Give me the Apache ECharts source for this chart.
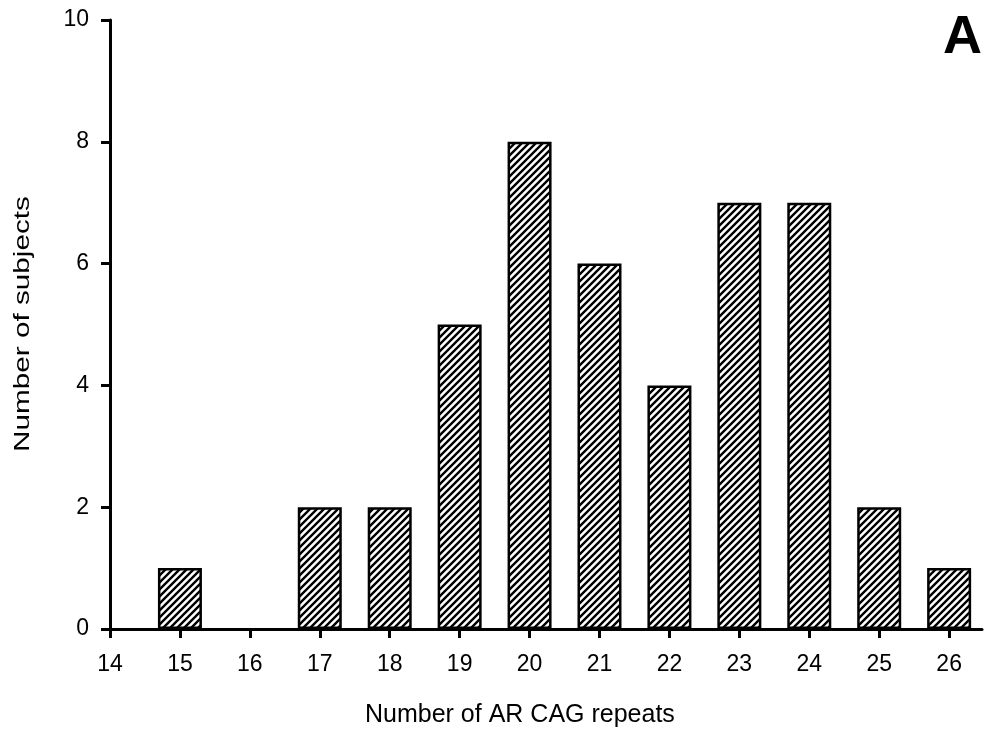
<!DOCTYPE html>
<html>
<head>
<meta charset="utf-8">
<script src="https://cdn.jsdelivr.net/npm/echarts@6/dist/echarts.min.js"></script>
<style>
html,body{margin:0;padding:0;background:#fff;}
#chart{width:986px;height:738px;}
</style>
</head>
<body>
<div id="chart"></div>
<script>
var repeats = [15, 16, 17, 18, 19, 20, 21, 22, 23, 24, 25, 26];
var subjects = [1, 0, 2, 2, 5, 8, 6, 4, 7, 7, 2, 1];
var yTicks = [0, 2, 4, 6, 8, 10];
var xTicks = [14, 15, 16, 17, 18, 19, 20, 21, 22, 23, 24, 25, 26];

function hatch() {
  var s = 7;
  var c = document.createElement('canvas');
  c.width = s; c.height = s;
  var g = c.getContext('2d');
  g.fillStyle = '#fff';
  g.fillRect(0, 0, s, s);
  g.strokeStyle = '#000';
  g.lineWidth = 2.4;
  g.beginPath();
  g.moveTo(-1, s + 1); g.lineTo(s + 1, -1);
  g.moveTo(-1, 1); g.lineTo(1, -1);
  g.moveTo(s - 1, s + 1); g.lineTo(s + 1, s - 1);
  g.stroke();
  return c;
}

var chart = echarts.init(document.getElementById('chart'));
var font = '"Liberation Sans", Arial, sans-serif';
chart.setOption({
  animation: false,
  grid: {left: 110, right: 4, top: 20, bottom: 109},
  xAxis: {
    type: 'value', min: 14, max: 26.47, interval: 1,
    axisLine: {show: true, lineStyle: {color: '#000', width: 3}},
    axisTick: {show: true, length: 9, lineStyle: {color: '#000', width: 3},
      customValues: xTicks},
    axisLabel: {color: '#000', fontSize: 23, fontFamily: font, margin: 24,
      customValues: xTicks},
    splitLine: {show: false}
  },
  yAxis: {
    type: 'value', min: 0, max: 10, interval: 2,
    axisLine: {show: true, lineStyle: {color: '#000', width: 3}},
    axisTick: {show: true, length: 9, lineStyle: {color: '#000', width: 3},
      customValues: yTicks},
    axisLabel: {color: '#000', fontSize: 23, fontFamily: font, margin: 21,
      customValues: yTicks},
    splitLine: {show: false}
  },
  series: [{
    type: 'bar',
    barWidth: 44,
    data: repeats.map(function (r, i) {
      var item = {value: [r, subjects[i]]};
      if (subjects[i] === 0) item.itemStyle = {borderWidth: 0};
      return item;
    }),
    itemStyle: {
      color: {image: hatch(), repeat: 'repeat'},
      borderColor: '#000', borderWidth: 2.5
    }
  }],
  graphic: [
    {type: 'text', x: 365, y: 728,
      style: {text: 'Number of AR CAG repeats', fill: '#000',
        font: '25px ' + font, textAlign: 'left', textVerticalAlign: 'bottom'}},
    {type: 'text', x: 23, y: 324, rotation: Math.PI / 2, scaleX: 1.35,
      style: {text: 'Number of subjects', fill: '#000', font: '22px ' + font,
        textAlign: 'center', textVerticalAlign: 'middle'}},
    {type: 'text', x: 943, y: 65,
      style: {text: 'A', fill: '#000', font: 'bold 54px ' + font,
        textAlign: 'left', textVerticalAlign: 'bottom'}}
  ]
});
</script>
</body>
</html>
